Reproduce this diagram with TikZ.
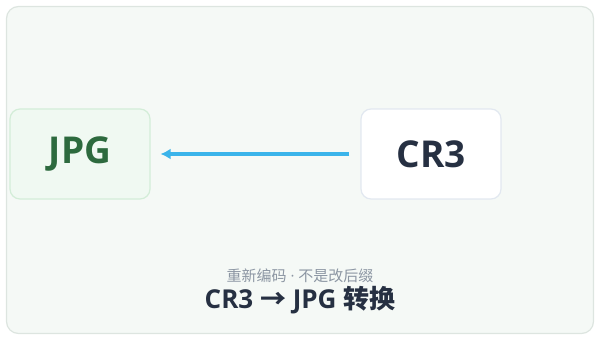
\documentclass[tikz,border=0pt]{standalone}
\usepackage{fontspec}
\setmainfont{Open Sans}
\newfontfamily\cjk{Noto Sans CJK SC}
\usepackage{tikz}
\usepackage{xcolor}
\usetikzlibrary{positioning}
\usetikzlibrary{arrows.meta}
\definecolor{panel}{HTML}{F5F9F6}
\definecolor{panelline}{HTML}{DDE5E0}
\definecolor{jpgfill}{HTML}{F0F9F2}
\definecolor{jpgline}{HTML}{D3EDD8}
\definecolor{jpgtext}{HTML}{2D6A3E}
\definecolor{rawline}{HTML}{E2E8F0}
\definecolor{ink}{HTML}{263042}
\definecolor{flow}{HTML}{3BB4EA}
\definecolor{muted}{HTML}{8C96A3}
\tikzset{
  % A file-format box
  fmt/.style={
    rounded corners=10pt, line width=1.2pt, align=center,
    minimum width=140pt, minimum height=90pt, inner sep=0pt,
    font=\fontsize{37}{42}\selectfont\bfseries},
  % Conversion direction
  conv/.style={-{Latex[length=10pt,width=11pt]}, draw=flow, line width=3.2pt},
  note/.style={font=\fontsize{15}{18}\selectfont, text=muted, inner sep=0pt},
  title/.style={font=\fontsize{26}{30}\selectfont\bfseries, text=ink, inner sep=0pt},
}

\begin{document}
\begin{tikzpicture}[x=1pt, y=-1pt]

  \useasboundingbox (0,0) rectangle (600,340);
  \draw[fill=panel, draw=panelline, line width=1.2pt, rounded corners=12pt]
    (6.5,6.5) rectangle (593.5,333.5);

  \node[fmt, fill=jpgfill, draw=jpgline, text=jpgtext] (jpg) at (80,154) {JPG};
  \node[fmt, fill=white, draw=rawline, text=ink] (cr3) at (431,154) {CR3};

  \draw[conv, shorten <=11pt, shorten >=10pt] (cr3.west) -- (jpg.east);

  \node[note] (hint) at (300,276) {{\cjk 重新编码} · {\cjk 不是改后缀}};
  \node[title, anchor=base] (caption) at (300,308) {CR3 {\cjk →} JPG {\cjk 转换}};

\end{tikzpicture}
\end{document}
